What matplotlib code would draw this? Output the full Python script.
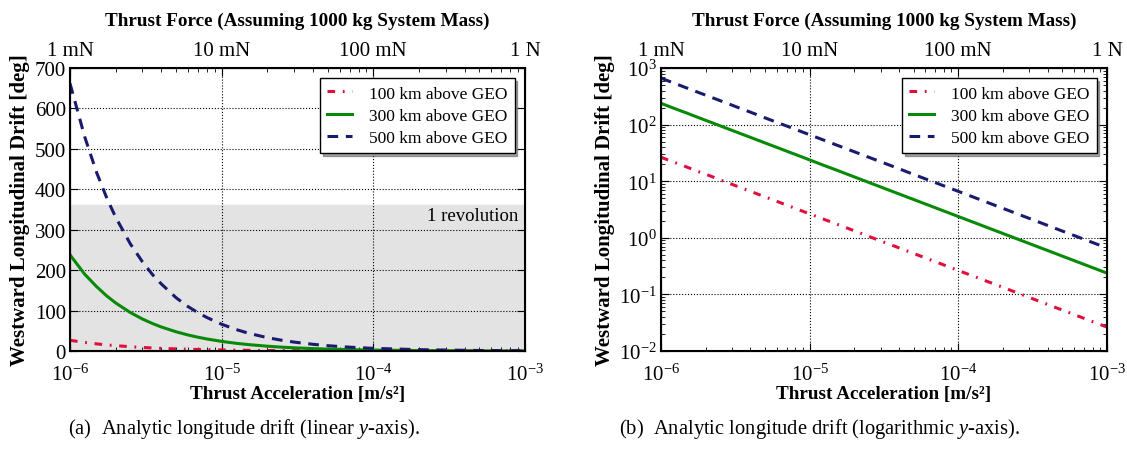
import matplotlib
matplotlib.use('Agg')
import matplotlib.pyplot as plt
import numpy as np
from matplotlib import rc

rc('font', family='serif', serif=['Liberation Serif', 'DejaVu Serif'])
rc('mathtext', fontset='custom', rm='Liberation Serif',
   it='Liberation Serif:italic', bf='Liberation Serif:bold')

# thrust acceleration [m/s^2]
accel = np.array([1, 1.25, 1.5, 1.75, 2, 2.5, 3, 3.5, 4, 5, 6, 7, 8, 10, 12.5, 15,
                  20, 25, 30, 40, 50, 70, 100, 200, 500, 1000]) * 1e-6
# westward drift [deg]
drift_100 = [26.5, 21.2, 17.7, 15.1, 13.3, 10.6, 8.83, 7.57, 6.63, 5.30, 4.42, 3.79, 3.31,
             2.65, 2.12, 1.77, 1.33, 1.06, 0.883, 0.663, 0.530, 0.379, 0.265, 0.133,
             0.053, 0.0265]
drift_300 = [238, 190, 159, 136, 119, 95.2, 79.3, 68.0, 59.5, 47.6, 39.7, 34.0, 29.8,
             23.8, 19.0, 15.9, 11.9, 9.52, 7.93, 5.95, 4.76, 3.40, 2.38, 1.19, 0.476, 0.238]
drift_500 = [662, 530, 441, 378, 331, 265, 221, 189, 166, 132, 110, 94.6, 82.8, 66.2,
             53.0, 44.1, 33.1, 26.5, 22.1, 16.6, 13.2, 9.46, 6.62, 3.31, 1.32, 0.662]

force_ticks = [1e-6, 1e-5, 1e-4, 1e-3]
force_labels = ['1 mN', '10 mN', '100 mN', '1 N']
xtick_labels = [r'$10^{-6}$', r'$10^{-5}$', r'$10^{-4}$', r'$10^{-3}$']

series = [
    ('100 km above GEO', drift_100, '#e0103c', (0, (2.5, 2.5, 0.6, 2.5))),
    ('300 km above GEO', drift_300, '#078a07', '-'),
    ('500 km above GEO', drift_500, '#1a1a6e', (0, (3.5, 2.5))),
]

fig = plt.figure(figsize=(11.27, 4.52), dpi=100)
ax1 = fig.add_axes([0.0621, 0.2212, 0.4037, 0.6261])
ax2 = fig.add_axes([0.5865, 0.2212, 0.3957, 0.6261])


def style(ax, logy):
    ax.set_xscale('log')
    ax.set_xlim(1e-6, 1e-3)
    ax.set_xticks(force_ticks)
    ax.set_xticklabels(xtick_labels, fontsize=15)
    if logy:
        ax.set_yscale('log')
        ax.set_ylim(1e-2, 1e3)
        ax.set_yticks([1e-2, 1e-1, 1, 10, 100, 1000])
        ax.set_yticklabels([r'$10^{-2}$', r'$10^{-1}$', r'$10^{0}$', r'$10^{1}$',
                            r'$10^{2}$', r'$10^{3}$'], fontsize=15)
    else:
        ax.set_ylim(0, 700)
        ax.set_yticks(range(0, 701, 100))
        ax.tick_params(axis='y', labelsize=15)
    ax.tick_params(which='both', direction='in', top=True, right=True)
    ax.tick_params(which='major', length=6, width=0.8)
    ax.tick_params(which='minor', length=3, width=0.6)
    ax.tick_params(axis='x', pad=9)
    ax.tick_params(axis='y', pad=3)
    ax.grid(True, which='major', ls=':', color='k', linewidth=0.8)
    for sp in ax.spines.values():
        sp.set_linewidth(1.5)
    ax.set_xlabel('Thrust Acceleration [m/s²]', fontsize=13.8, fontweight='bold',
                  labelpad=0.5)
    ax.set_ylabel('Westward Longitudinal Drift [deg]', fontsize=15, fontweight='bold',
                  labelpad=3)

    for name, vals, col, ls in series:
        ax.plot(accel, vals, color=col, linestyle=ls, linewidth=2.2, label=name)

    leg = ax.legend(loc='upper right', fontsize=12.5, frameon=True, fancybox=False,
                    shadow=True, framealpha=1, edgecolor='k', handlelength=1.4,
                    handletextpad=1.0, borderaxespad=0.6, labelspacing=0.35)
    leg.get_frame().set_linewidth(1.0)

    top = ax.twiny()
    top.set_xscale('log')
    top.set_xlim(1e-6, 1e-3)
    top.set_xticks(force_ticks)
    top.set_xticklabels(force_labels, fontsize=15)
    top.tick_params(which='both', direction='in')
    top.tick_params(which='major', length=6, width=0.8, pad=6)
    top.tick_params(which='minor', length=3, width=0.6)
    top.set_xlabel('Thrust Force (Assuming 1000 kg System Mass)', fontsize=13.8,
                   fontweight='bold', labelpad=11)


style(ax1, False)
ax1.axhspan(0, 360, color='#e3e3e3', zorder=0)
ax1.text(0.985, 334, '1 revolution', transform=ax1.get_yaxis_transform(),
         ha='right', va='center', fontsize=13.5)
style(ax2, True)

fig.text(0.216, 0.05, r'(a)  Analytic longitude drift (linear $y$-axis).',
         ha='center', va='center', fontsize=14.8)
fig.text(0.7275, 0.05, r'(b)  Analytic longitude drift (logarithmic $y$-axis).',
         ha='center', va='center', fontsize=14.8)

fig.savefig('out.png', dpi=100)
